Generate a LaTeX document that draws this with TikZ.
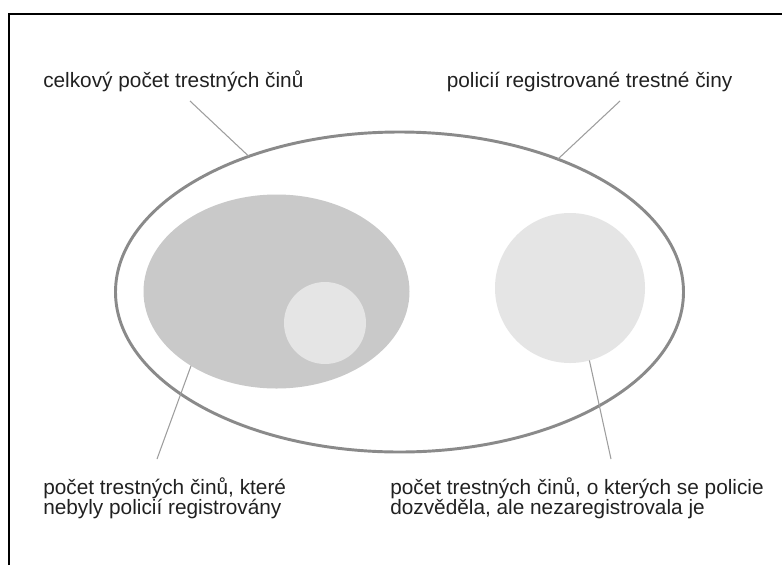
\documentclass[tikz,border=0pt]{standalone}
\usepackage{fontspec}
\setmainfont{Liberation Sans}
\usetikzlibrary{shapes.geometric}

\begin{document}
\begin{tikzpicture}[
   x=0.75pt,y=-0.75pt,
   font=\fontsize{15.6}{15}\selectfont,
   frame/.style={draw=black,line width=1.5pt},
   blob/.style={ellipse,inner sep=0pt,outer sep=0pt},
   total/.style={blob,draw=black!46,line width=2.2pt,fill=white},
   hidden/.style={blob,fill=black!21},
   known/.style={blob,fill=black!10},
   leader/.style={draw=black!38,line width=0.8pt},
   note/.style={text=black!87,align=left,inner sep=0pt,anchor=base west}]
\useasboundingbox (0,0) rectangle (782,565);
\draw[frame] (9.3,565) |- (782,13.5);
\node[total,minimum width=426pt,minimum height=240pt] (total) at (399.5,292) {};
\node[hidden,minimum width=199.5pt,minimum height=145.5pt] (unreported) at (276.5,291.5) {};
\node[known,circle,minimum size=61.5pt] (inner) at (325,323) {};
\node[known,circle,minimum size=112.5pt] (unrecorded) at (570,288) {};
\node[note] (allcrimes) at (43,87) {celkový počet trestných činů};
\node[note] (registered) at (446.5,87) {policií registrované trestné činy};
\node[note] (hiddentext) at (43,514) {počet trestných činů, které\\nebyly policií registrovány};
\node[note] (knowntext) at (390,514) {počet trestných činů, o kterých se policie\\dozvěděla, ale nezaregistrovala je};
\coordinate (allcrimes-end) at (190,101);
\coordinate (registered-end) at (620,101);
\coordinate (hidden-end) at (157,459);
\coordinate (known-end) at (611,459);
\draw[leader] (allcrimes-end) -- (total.138);
\draw[leader] (registered-end) -- (total.40);
\draw[leader] (hidden-end) -- (unreported.221);
\draw[leader] (known-end) -- (unrecorded.285);
\end{tikzpicture}
\end{document}
